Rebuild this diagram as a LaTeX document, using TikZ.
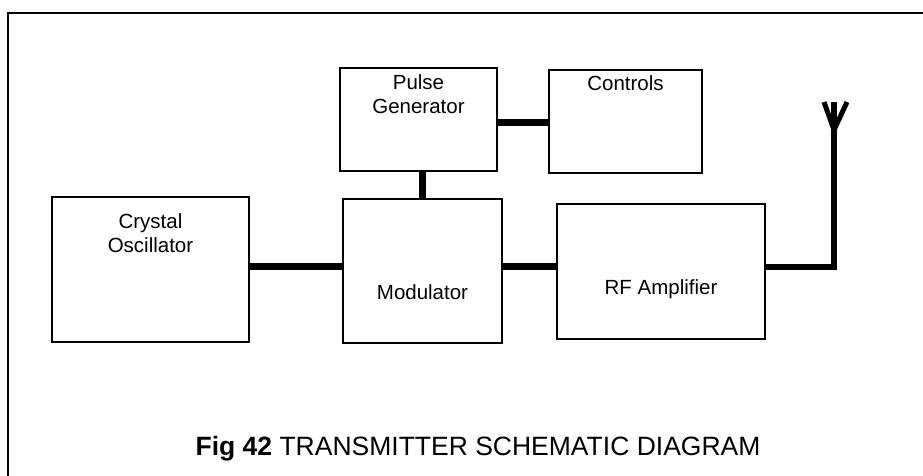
\documentclass[tikz,border=0pt]{standalone}
\usepackage{fontspec}
\setmainfont{Liberation Sans}
\usetikzlibrary{positioning}

\begin{document}
\begin{tikzpicture}[x=1pt,y=1pt,
    blk/.style={draw, line width=2pt, inner sep=0pt},
    lbl/.style={font=\fontsize{20.5}{24}\selectfont, align=center, inner sep=0pt, anchor=base},
    wire/.style={line width=7pt},
    aerial/.style={line width=5pt}]
  \useasboundingbox (0,0) rectangle (923,476);
  % outer frame
  \draw[line width=2.5pt] (8,-10) |- (933,463);
  % blocks
  \node[blk, minimum width=157pt, minimum height=103pt] (pulse) at (418.5,356.5) {};
  \node[blk, minimum width=153pt, minimum height=103pt] (ctrl) at (625.5,354.5) {};
  \node[blk, minimum width=197pt, minimum height=145pt] (xtal) at (150.5,206.5) {};
  \node[blk, minimum width=159pt, minimum height=144pt] (mod) at (422.5,205) {};
  \node[blk, minimum width=208pt, minimum height=135pt] (rf) at (661,204.5) {};
  % labels
  \node[lbl] at (pulse.center |- 0,362) {Pulse\\Generator};
  \node[lbl] at (ctrl.center |- 0,385) {Controls};
  \node[lbl] at (xtal.center |- 0,223) {Crystal\\Oscillator};
  \node[lbl] at (mod.center |- 0,176) {Modulator};
  \node[lbl] at (rf.center |- 0,181) {RF Amplifier};
  % connections
  \coordinate (bus) at (0,209);
  \coordinate (ant) at (834,374);
  \draw[wire] (pulse.east |- 0,353) -- (ctrl.west |- 0,353);
  \draw[wire] (mod.north) -- (mod.north |- pulse.south);
  \draw[wire] (xtal.east |- bus) -- (mod.west |- bus);
  \draw[wire] (mod.east |- bus) -- (rf.west |- bus);
  \draw[line width=6pt] (rf.east |- bus) -| (ant);
  \draw[aerial] (ant) ++(-10,0) -- ++(10,-28) -- ++(13,28);
  % caption
  \node[font=\fontsize{26.5}{30}\selectfont, anchor=base, inner sep=0pt] (caption) at (478,20)
    {\textbf{Fig 42} TRANSMITTER SCHEMATIC DIAGRAM};
\end{tikzpicture}
\end{document}
